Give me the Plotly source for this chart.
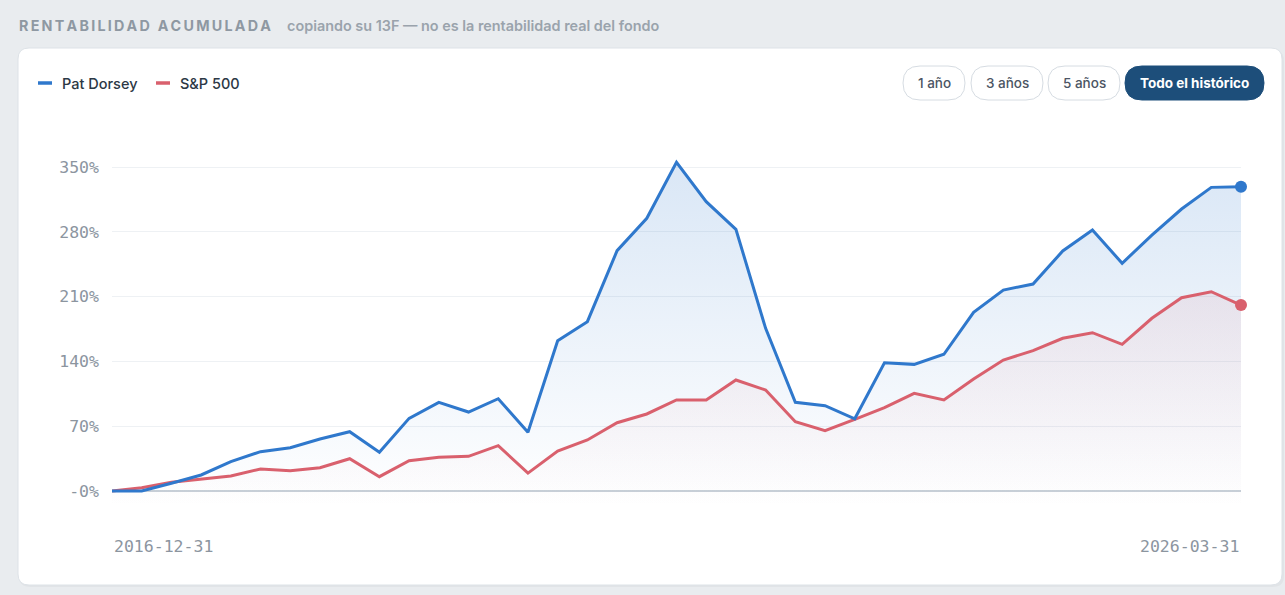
import plotly.graph_objects as go

# ---------------- data ----------------
series_names = ["Pat Dorsey", "S&P 500"]
x_labels = ["2016-12-31", "2026-03-31"]
y_tick_values = [0, 70, 140, 210, 280, 350]
y_tick_labels = ["-0%", "70%", "140%", "210%", "280%", "350%"]
range_buttons = ["1 año", "3 años", "5 años", "Todo el histórico"]

pat_dorsey = [0, 0, 8.3, 17.3, 31.7, 42.5, 46.8, 56.2, 64.1, 41.8,
              78.5, 95.8, 85.3, 99.7, 63.5, 162.4, 182.9, 259.6, 294.6, 355.0,
              312.5, 282.7, 175.7, 95.8, 92.2, 78.0, 138.6, 136.8, 147.7, 193.0,
              217.1, 223.6, 259.3, 282.0, 246.0, 276.5, 304.6, 328.0, 328.7]
sp500 = [0, 3.6, 9.4, 12.6, 16.2, 23.8, 21.9, 25.2, 34.9, 15.5,
         32.7, 36.4, 37.5, 49.0, 19.3, 43.2, 55.1, 73.8, 83.2, 98.3,
         98.3, 119.9, 109.1, 74.9, 65.1, 77.3, 90.0, 105.5, 98.3, 121.0,
         141.5, 151.6, 165.0, 171.0, 158.5, 186.6, 208.8, 215.3, 200.9]

# ---------------- layout geometry ----------------
W, H = 1285, 595
ML, MR, MT, MB = 112, 44, 139, 88
PW, PH = W - ML - MR, H - MT - MB
Y_MIN, Y_MAX = -17.28, 380.25

BLUE = "#2f78cc"
RED = "#d9606d"
BG = "#e9ecef"
TICK = "#8c959f"


def px(x):
    return (x - ML) / PW


def py(y):
    return (H - MB - y) / PH


def rrect(x0, y0, x1, y1, r):
    pts = []
    pts.append(f"M{px(x0 + r)},{py(y0)}")
    pts.append(f"L{px(x1 - r)},{py(y0)}")
    pts.append(f"Q{px(x1)},{py(y0)} {px(x1)},{py(y0 + r)}")
    pts.append(f"L{px(x1)},{py(y1 - r)}")
    pts.append(f"Q{px(x1)},{py(y1)} {px(x1 - r)},{py(y1)}")
    pts.append(f"L{px(x0 + r)},{py(y1)}")
    pts.append(f"Q{px(x0)},{py(y1)} {px(x0)},{py(y1 - r)}")
    pts.append(f"L{px(x0)},{py(y0 + r)}")
    pts.append(f"Q{px(x0)},{py(y0)} {px(x0 + r)},{py(y0)}")
    return " ".join(pts) + " Z"


n = len(pat_dorsey)
xs = list(range(n))
base = [Y_MIN] * n

fig = go.Figure()

# fills
fig.add_trace(go.Scatter(x=xs, y=base, mode="lines", line=dict(width=0),
                         showlegend=False, hoverinfo="skip"))
fig.add_trace(go.Scatter(
    x=xs, y=pat_dorsey, mode="lines", line=dict(width=0), fill="tonexty",
    fillgradient=dict(type="vertical", start=Y_MIN, stop=max(pat_dorsey),
                      colorscale=[[0, "rgba(47,120,204,0.0)"],
                                  [1, "rgba(47,120,204,0.18)"]]),
    showlegend=False, hoverinfo="skip"))
fig.add_trace(go.Scatter(x=xs, y=base, mode="lines", line=dict(width=0),
                         showlegend=False, hoverinfo="skip"))
fig.add_trace(go.Scatter(
    x=xs, y=sp500, mode="lines", line=dict(width=0), fill="tonexty",
    fillgradient=dict(type="vertical", start=Y_MIN, stop=max(sp500),
                      colorscale=[[0, "rgba(217,96,109,0.0)"],
                                  [1, "rgba(217,96,109,0.10)"]]),
    showlegend=False, hoverinfo="skip"))

# lines
fig.add_trace(go.Scatter(x=xs, y=sp500, mode="lines", name=series_names[1],
                         line=dict(color=RED, width=3), showlegend=False))
fig.add_trace(go.Scatter(x=xs, y=pat_dorsey, mode="lines", name=series_names[0],
                         line=dict(color=BLUE, width=3), showlegend=False))
# end markers
fig.add_trace(go.Scatter(x=[xs[-1]], y=[sp500[-1]], mode="markers",
                         marker=dict(color=RED, size=12), showlegend=False,
                         cliponaxis=False, hoverinfo="skip"))
fig.add_trace(go.Scatter(x=[xs[-1]], y=[pat_dorsey[-1]], mode="markers",
                         marker=dict(color=BLUE, size=12), showlegend=False,
                         cliponaxis=False, hoverinfo="skip"))

shapes = []
# card
shapes.append(dict(type="path", xref="paper", yref="paper", layer="below",
                   path=rrect(19, 50, 1284, 587, 11),
                   fillcolor="rgba(0,0,0,0.03)", line=dict(width=0)))
shapes.append(dict(type="path", xref="paper", yref="paper", layer="below",
                   path=rrect(18, 48, 1282, 585, 11),
                   fillcolor="#ffffff", line=dict(color="#dde2e7", width=1)))
# legend swatches
for (x0, x1, c) in [(38, 52, BLUE), (156, 170, RED)]:
    shapes.append(dict(type="line", xref="paper", yref="paper",
                       x0=px(x0), x1=px(x1), y0=py(83), y1=py(83),
                       line=dict(color=c, width=3.5)))
# pills
pill_boxes = [(903, 965), (971, 1043), (1048, 1120), (1125, 1264)]
for i, (a, b) in enumerate(pill_boxes):
    active = i == len(pill_boxes) - 1
    shapes.append(dict(type="path", xref="paper", yref="paper",
                       path=rrect(a, 66, b, 100, 17),
                       fillcolor="#1d4e7a" if active else "#ffffff",
                       line=dict(color="#1d4e7a" if active else "#d6dce2",
                                 width=1)))

annotations = []
title_main = "RENTABILIDAD ACUMULADA"
spaced = "\u2009".join(title_main)
annotations.append(dict(xref="paper", yref="paper", x=px(17), y=py(26),
                        xanchor="left", yanchor="middle", showarrow=False,
                        text=spaced,
                        font=dict(family="Inter", size=14.3, color="#8e98a2",
                                  weight=700)))
annotations.append(dict(xref="paper", yref="paper", x=px(285), y=py(26),
                        xanchor="left", yanchor="middle", showarrow=False,
                        text="copiando su 13F — no es la rentabilidad real del fondo",
                        font=dict(family="Inter", size=14.4, color="#9aa3ac",
                                  weight=600)))
for (x0, name) in [(60, series_names[0]), (178, series_names[1])]:
    annotations.append(dict(xref="paper", yref="paper", x=px(x0), y=py(83),
                            xanchor="left", yanchor="middle", showarrow=False,
                            text=name,
                            font=dict(family="Inter", size=14.5,
                                      color="#2c3845", weight=500)))
for i, ((a, b), lab) in enumerate(zip(pill_boxes, range_buttons)):
    active = i == len(pill_boxes) - 1
    annotations.append(dict(xref="paper", yref="paper", x=px((a + b) / 2),
                            y=py(83), xanchor="center", yanchor="middle",
                            showarrow=False, text=lab,
                            font=dict(family="Inter", size=13.5,
                                      color="#ffffff" if active else "#4b5563",
                                      weight=700 if active else 500)))
# x labels (first / last)
annotations.append(dict(xref="x", yref="paper", x=xs[0], y=py(546),
                        xanchor="left", yanchor="middle", showarrow=False,
                        text=x_labels[0],
                        font=dict(family="DejaVu Sans Mono", size=16.5, color=TICK)))
annotations.append(dict(xref="x", yref="paper", x=xs[-1], y=py(546),
                        xanchor="right", yanchor="middle", showarrow=False,
                        text=x_labels[1],
                        font=dict(family="DejaVu Sans Mono", size=16.5, color=TICK)))

fig.update_layout(
    width=W, height=H,
    margin=dict(l=ML, r=MR, t=MT, b=MB, pad=0),
    paper_bgcolor=BG, plot_bgcolor="rgba(0,0,0,0)",
    shapes=shapes, annotations=annotations,
    showlegend=False,
    xaxis=dict(range=[0, n - 1], showgrid=False, zeroline=False,
               showticklabels=False, showline=False, fixedrange=True),
    yaxis=dict(range=[Y_MIN, Y_MAX], tickvals=y_tick_values,
               ticktext=y_tick_labels, showgrid=True, gridcolor="#eef1f4",
               gridwidth=1, zeroline=True, zerolinecolor="#c8d0d8",
               zerolinewidth=1.5, showline=False, ticks="",
               ticklabelstandoff=12,
               tickfont=dict(family="DejaVu Sans Mono", size=16.5, color=TICK),
               fixedrange=True),
    hovermode=False,
)

fig.write_html("out.html", config={"displayModeBar": False},
               post_script="document.body.style.margin='0px';"
                           "document.body.style.overflow='hidden';"
                           "document.body.style.background='" + BG + "';")
